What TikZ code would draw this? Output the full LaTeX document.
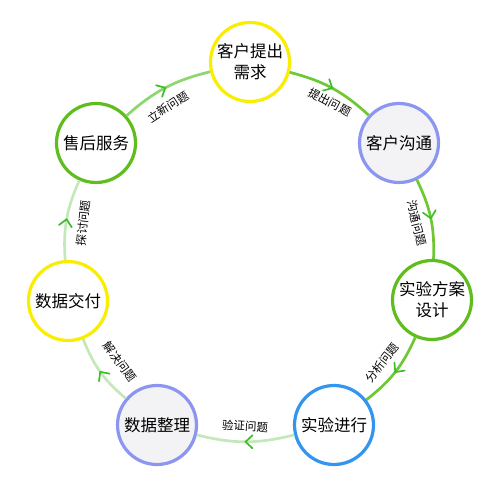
\documentclass[tikz,border=0pt]{standalone}
\usepackage{fontspec}
\newfontfamily\cjk{Noto Sans CJK SC}
\usetikzlibrary{arrows.meta,decorations.markings,shadows}
\definecolor{cyel}{RGB}{250,238,0}
\definecolor{clav}{RGB}{140,150,240}
\definecolor{clavfill}{RGB}{243,243,245}
\definecolor{cgrn}{RGB}{95,190,30}
\definecolor{cblu}{RGB}{50,150,240}
\definecolor{arcdark}{RGB}{110,200,50}
\definecolor{arcmid}{RGB}{140,215,110}
\definecolor{arclight}{RGB}{195,232,185}
\definecolor{tipgrn}{RGB}{60,190,40}
\tikzset{
  stage/.style={circle,line width=3.2pt,minimum size=79pt,inner sep=0pt,align=center,
    font=\cjk\fontsize{16.5}{21}\selectfont,fill=white,
    drop shadow={opacity=0.18,shadow xshift=1.2pt,shadow yshift=-1.2pt}},
  yelnode/.style={stage,draw=cyel},
  lavnode/.style={stage,draw=clav,fill=clavfill},
  grnnode/.style={stage,draw=cgrn},
  blunode/.style={stage,draw=cblu},
  flow/.style={line width=2.7pt,postaction={decorate},
    decoration={markings,mark=at position 0.5 with {\draw[tipgrn,line width=1.7pt,line cap=round,line join=round] (-7pt,6.5pt) -- (0,0) -- (-7pt,-6.5pt);}}},
  lbl/.style={font=\cjk\fontsize{11.5}{13}\selectfont,inner sep=0pt}
}
\begin{document}
\begin{tikzpicture}[x=1pt,y=1pt]
\useasboundingbox (0,0) rectangle (500,489);
\node[yelnode] (a) at (250,427) {客户提出\\需求};
\node[lavnode] (b) at (399,346) {客户沟通};
\node[grnnode] (c) at (432,189) {实验方案\\设计};
\node[blunode] (d) at (334,64) {实验进行};
\node[lavnode] (e) at (157,64) {数据整理};
\node[yelnode] (f) at (68,188) {数据交付};
\node[grnnode] (g) at (96,346) {售后服务};
\draw[flow,arcmid] (g) to[bend left=14] (a);
\draw[flow,arcdark] (a) to[bend left=14] (b);
\draw[flow,arcdark] (b) to[bend left=14] (c);
\draw[flow,arcdark] (c) to[bend left=14] (d);
\draw[flow,arclight] (d) to[bend left=14] (e);
\draw[flow,arclight] (e) to[bend left=14] (f);
\draw[flow,arclight] (f) to[bend left=14] (g);
\node[lbl,rotate=33] (l1) at (168,382) {立新问题};
\node[lbl,rotate=-28] (l2) at (330,387) {提出问题};
\node[lbl,rotate=-76] (l3) at (417,266) {沟通问题};
\node[lbl,rotate=52] (l4) at (382,126) {分析问题};
\node[lbl,rotate=-3] (l5) at (245,63) {验证问题};
\node[lbl,rotate=-54] (l6) at (120,127) {解决问题};
\node[lbl,rotate=84] (l7) at (83,266) {探讨问题};
\end{tikzpicture}
\end{document}
